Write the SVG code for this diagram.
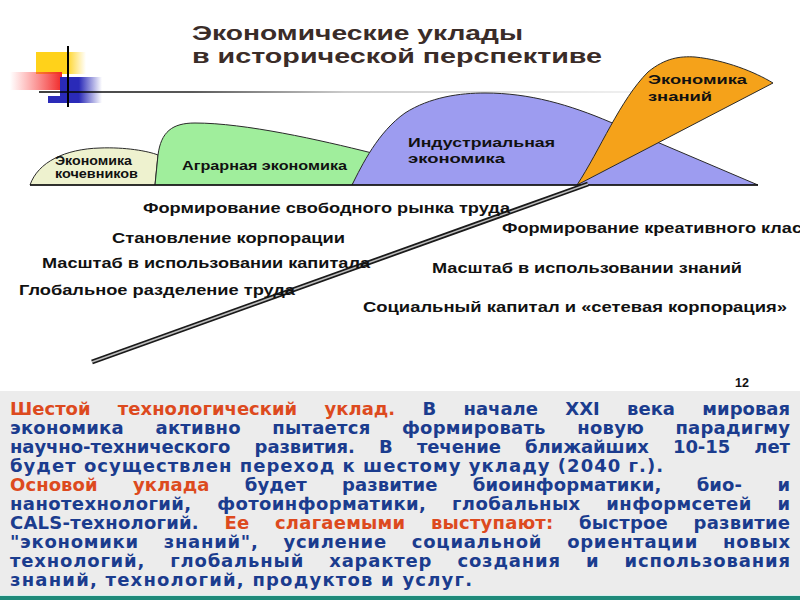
<svg xmlns="http://www.w3.org/2000/svg" width="800" height="600" viewBox="0 0 800 600">
<defs>
<linearGradient id="gY" x1="0" x2="1" y1="0" y2="0"><stop offset="0" stop-color="#ffd21a"/><stop offset="0.6" stop-color="#ffd21a"/><stop offset="1" stop-color="#ffd21a" stop-opacity="0"/></linearGradient>
<linearGradient id="gR" x1="0" x2="1" y1="0" y2="0"><stop offset="0" stop-color="#ff4040" stop-opacity="0"/><stop offset="1" stop-color="#f02828"/></linearGradient>
<linearGradient id="gB" x1="0" x2="1" y1="0" y2="0"><stop offset="0" stop-color="#2a2ab8"/><stop offset="0.45" stop-color="#2a2ab8"/><stop offset="1" stop-color="#2a2ab8" stop-opacity="0"/></linearGradient>
<linearGradient id="gL" x1="40" x2="650" y1="0" y2="0" gradientUnits="userSpaceOnUse"><stop offset="0" stop-color="#000"/><stop offset="0.25" stop-color="#222"/><stop offset="0.5" stop-color="#bbb"/><stop offset="1" stop-color="#eee"/></linearGradient>
</defs>
<style>
.t{font-family:"Liberation Sans",Arial,sans-serif;font-weight:bold;fill:#3a2c28;font-size:21px}
.lb{font-family:"Liberation Sans",Arial,sans-serif;font-weight:bold;fill:#111;font-size:15px}
.in{font-family:"Liberation Sans",Arial,sans-serif;font-weight:bold;fill:#111;font-size:12.5px}
.shape{stroke:#2a2a2a;stroke-width:1}
.p{font-family:"DejaVu Sans",Verdana,sans-serif;font-weight:bold;font-size:18px;fill:#1b3c8e}
.r{fill:#dd4a1e}
</style>
<rect width="800" height="600" fill="#fff"/>
<g id="decoration">
<rect x="36" y="52" width="50" height="22" fill="url(#gY)"/>
<rect x="10" y="72" width="52" height="18" fill="url(#gR)"/>
<rect x="60" y="77" width="42" height="26" fill="url(#gB)"/>
<rect x="48" y="96" width="14" height="7" fill="#2a2ab8"/>
<line x1="68" y1="46" x2="68" y2="107" stroke="#000" stroke-width="2"/>
<line x1="39" y1="92" x2="660" y2="92" stroke="url(#gL)" stroke-width="1.5"/>
</g>
<g id="title">
<text class="t" x="192" y="40" textLength="331" lengthAdjust="spacingAndGlyphs">Экономические уклады</text>
<text class="t" x="192" y="63" textLength="410" lengthAdjust="spacingAndGlyphs">в исторической перспективе</text>
</g>
<g id="nomad">
<path class="shape" d="M30,185 C38,162 65,149 100,148 C125,147 148,151 158,155 L155,185 Z" fill="#eef2cf"/>
<text class="in" x="55" y="165" textLength="77" lengthAdjust="spacingAndGlyphs">Экономика</text>
<text class="in" x="55" y="178" textLength="83" lengthAdjust="spacingAndGlyphs">кочевников</text>
</g>
<g id="agrarian">
<path class="shape" d="M155,185 L158,155 C161,132 172,123 195,123 C245,123 320,140 372,153 L352,185 Z" fill="#a0ee9c"/>
<text class="in" x="182" y="170" textLength="165" lengthAdjust="spacingAndGlyphs">Аграрная экономика</text>
</g>
<g id="industrial">
<path class="shape" d="M352,185 C362,165 378,132 405,113 C430,97 460,93 485,93 C530,93 570,105 610,122 L758,185 Z" fill="#9d9cf0"/>
<text class="in" x="408" y="147" textLength="147" lengthAdjust="spacingAndGlyphs">Индустриальная</text>
<text class="in" x="408" y="163" textLength="97" lengthAdjust="spacingAndGlyphs">экономика</text>
</g>
<g id="knowledge">
<path class="shape" d="M577,185 C600,150 620,100 648,72 C665,58 680,56 695,57 C725,60 755,72 773,83 Z" fill="#f5a21a" stroke="#5a3f00"/>
<text class="in" x="648" y="84" textLength="99" lengthAdjust="spacingAndGlyphs">Экономика</text>
<text class="in" x="648" y="101" textLength="64" lengthAdjust="spacingAndGlyphs">знаний</text>
</g>
<line x1="30" y1="185" x2="758" y2="185" stroke="#111" stroke-width="1.5"/>
<g id="connectors">
<line x1="92" y1="362" x2="588" y2="184" stroke="#1a1a1a" stroke-width="5"/>
<line x1="92" y1="362" x2="588" y2="184" stroke="#bdbdbd" stroke-width="1.5"/>
</g>
<g id="labels">
<text class="lb" x="143" y="213" textLength="367" lengthAdjust="spacingAndGlyphs">Формирование свободного рынка труда</text>
<text class="lb" x="112" y="243" textLength="233" lengthAdjust="spacingAndGlyphs">Становление корпорации</text>
<text class="lb" x="42" y="268" textLength="328" lengthAdjust="spacingAndGlyphs">Масштаб в использовании капитала</text>
<text class="lb" x="19" y="295" textLength="276" lengthAdjust="spacingAndGlyphs">Глобальное разделение труда</text>
<text class="lb" x="502" y="233" textLength="300" lengthAdjust="spacingAndGlyphs">Формирование креативного клас</text>
<text class="lb" x="432" y="273" textLength="310" lengthAdjust="spacingAndGlyphs">Масштаб в использовании знаний</text>
<text class="lb" x="363" y="312" textLength="424" lengthAdjust="spacingAndGlyphs">Социальный капитал и «сетевая корпорация»</text>
<text class="in" x="735" y="387" font-size="11">12</text>
</g>
<g id="textbox">
<rect x="0" y="391" width="800" height="205" fill="#ececec"/>
<rect x="0" y="595" width="800" height="1" fill="#d4f0ee"/>
<rect x="0" y="596" width="800" height="4" fill="#1f8a7a"/>
<text class="p" x="10" y="415" word-spacing="21" textLength="780" lengthAdjust="spacing"><tspan class="r">Шестой технологический уклад.</tspan> В начале XXI века мировая</text>
<text class="p" x="10" y="434" word-spacing="25" textLength="780" lengthAdjust="spacing">экономика активно пытается формировать новую парадигму</text>
<text class="p" x="10" y="453" word-spacing="18" textLength="780" lengthAdjust="spacing">научно-технического развития. В течение ближайших 10-15 лет</text>
<text class="p" x="10" y="472" textLength="653" lengthAdjust="spacing">будет осуществлен переход к шестому укладу (2040 г.).</text>
<text class="p" x="10" y="491" word-spacing="29" textLength="780" lengthAdjust="spacing"><tspan class="r">Основой уклада</tspan> будет развитие биоинформатики, био- и</text>
<text class="p" x="10" y="510" word-spacing="19" textLength="780" lengthAdjust="spacing">нанотехнологий, фотоинформатики, глобальных информсетей и</text>
<text class="p" x="10" y="529" word-spacing="19" textLength="780" lengthAdjust="spacing">CALS-технологий. <tspan class="r">Ее слагаемыми выступают:</tspan> быстрое развитие</text>
<text class="p" x="10" y="548" word-spacing="18" textLength="780" lengthAdjust="spacing">"экономики знаний", усиление социальной ориентации новых</text>
<text class="p" x="10" y="567" word-spacing="18" textLength="780" lengthAdjust="spacing">технологий, глобальный характер создания и использования</text>
<text class="p" x="10" y="586" textLength="462" lengthAdjust="spacing">знаний, технологий, продуктов и услуг.</text>
</g>
</svg>
